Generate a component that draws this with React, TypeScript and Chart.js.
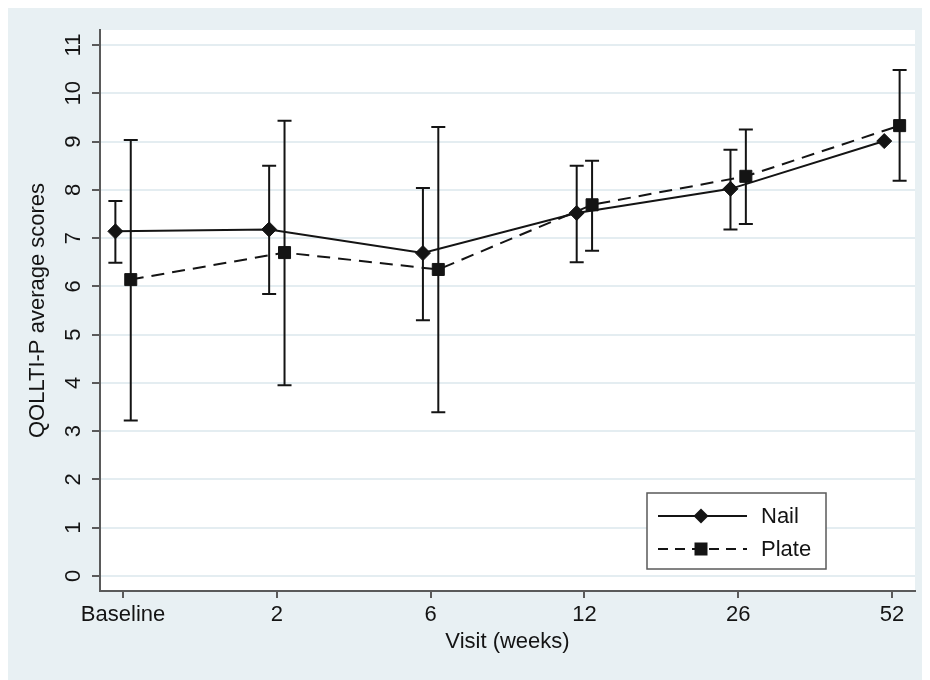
import React, { useEffect, useRef } from 'react';
import { Chart, registerables } from 'chart.js';

Chart.register(...registerables);

// ---- data ----
const visitLabels = ['Baseline', '2', '6', '12', '26', '52'];
const yTickValues = [0, 1, 2, 3, 4, 5, 6, 7, 8, 9, 10, 11];

const nailMean = [7.14, 7.18, 6.69, 7.52, 8.02, 9.01];
const nailLow = [6.49, 5.84, 5.30, 6.50, 7.18, null];
const nailHigh = [7.77, 8.50, 8.04, 8.50, 8.83, null];

const plateMean = [6.14, 6.70, 6.35, 7.69, 8.28, 9.33];
const plateLow = [3.22, 3.95, 3.39, 6.74, 7.29, 8.19];
const plateHigh = [9.03, 9.43, 9.30, 8.60, 9.25, 10.48];

const seriesNames = ['Nail', 'Plate'];
const yTitle = 'QOLLTI-P average scores';
const xTitle = 'Visit (weeks)';

// ---- styling ----
const FONT = "'Liberation Sans', Arial, Helvetica, sans-serif";
const INK = '#141414';
const AXIS = '#5a5a5a';
const BG = '#e8f0f3';
const GRID = '#e4edf1';
const DODGE = 0.05;

const W = 922;
const H = 672;

const bgPlugin = {
  id: 'bgPlugin',
  beforeDraw(chart: any) {
    const { ctx, chartArea: a, width, height } = chart;
    ctx.save();
    ctx.fillStyle = BG;
    ctx.fillRect(0, 0, width, height);
    ctx.fillStyle = '#ffffff';
    ctx.fillRect(a.left, a.top, a.right - a.left, a.bottom - a.top);
    ctx.restore();
  },
};

const errorBarPlugin = {
  id: 'errorBarPlugin',
  beforeDatasetsDraw(chart: any) {
    const { ctx } = chart;
    const xs = chart.scales.x;
    const ys = chart.scales.y;
    const groups = [
      { lo: nailLow, hi: nailHigh, off: -DODGE },
      { lo: plateLow, hi: plateHigh, off: DODGE },
    ];
    ctx.save();
    ctx.strokeStyle = INK;
    ctx.lineWidth = 2;
    groups.forEach((g) => {
      g.lo.forEach((lo: number | null, i: number) => {
        const hi = g.hi[i];
        if (lo == null || hi == null) return;
        const x = xs.getPixelForValue(i + g.off);
        const y1 = ys.getPixelForValue(lo);
        const y2 = ys.getPixelForValue(hi);
        ctx.beginPath();
        ctx.moveTo(x, y1);
        ctx.lineTo(x, y2);
        ctx.moveTo(x - 7, y1);
        ctx.lineTo(x + 7, y1);
        ctx.moveTo(x - 7, y2);
        ctx.lineTo(x + 7, y2);
        ctx.stroke();
      });
    });
    ctx.restore();
  },
};

const yLabelPlugin = {
  id: 'yLabelPlugin',
  afterDraw(chart: any) {
    const { ctx } = chart;
    const ys = chart.scales.y;
    ctx.save();
    ctx.fillStyle = INK;
    ctx.font = `22px ${FONT}`;
    ctx.textAlign = 'center';
    ctx.textBaseline = 'middle';
    yTickValues.forEach((v) => {
      const y = ys.getPixelForValue(v);
      ctx.save();
      ctx.translate(66, y);
      ctx.rotate(-Math.PI / 2);
      ctx.fillText(String(v), 0, 0);
      ctx.restore();
    });
    ctx.restore();
  },
};

const legendPlugin = {
  id: 'legendPlugin',
  afterDraw(chart: any) {
    const { ctx } = chart;
    const bx = 639, by = 485, bw = 179, bh = 76;
    ctx.save();
    ctx.fillStyle = '#ffffff';
    ctx.fillRect(bx, by, bw, bh);
    ctx.strokeStyle = AXIS;
    ctx.lineWidth = 1.5;
    ctx.strokeRect(bx, by, bw, bh);

    const rows = [by + 23, by + 56];
    ctx.strokeStyle = INK;
    ctx.fillStyle = INK;
    ctx.lineWidth = 2;
    // Nail: solid line + diamond
    ctx.setLineDash([]);
    ctx.beginPath();
    ctx.moveTo(650, rows[0]);
    ctx.lineTo(739, rows[0]);
    ctx.stroke();
    ctx.beginPath();
    ctx.moveTo(693, rows[0] - 7.5);
    ctx.lineTo(700.5, rows[0]);
    ctx.lineTo(693, rows[0] + 7.5);
    ctx.lineTo(685.5, rows[0]);
    ctx.closePath();
    ctx.fill();
    // Plate: dashed line + square
    ctx.setLineDash([10, 7]);
    ctx.beginPath();
    ctx.moveTo(650, rows[1]);
    ctx.lineTo(739, rows[1]);
    ctx.stroke();
    ctx.setLineDash([]);
    ctx.fillRect(693 - 6.5, rows[1] - 6.5, 13, 13);

    ctx.font = `22px ${FONT}`;
    ctx.textAlign = 'left';
    ctx.textBaseline = 'middle';
    ctx.fillText(seriesNames[0], 753, rows[0] + 1);
    ctx.fillText(seriesNames[1], 753, rows[1] + 1);
    ctx.restore();
  },
};

export default function App() {
  const ref = useRef<HTMLCanvasElement>(null);

  useEffect(() => {
    document.documentElement.style.overflow = 'hidden';
    document.body.style.overflow = 'hidden';
    const canvas = ref.current;
    if (!canvas) return;

    const chart = new Chart(canvas, {
      type: 'line',
      data: {
        datasets: [
          {
            label: seriesNames[0],
            data: nailMean.map((y, i) => ({ x: i - DODGE, y })),
            borderColor: INK,
            backgroundColor: INK,
            borderWidth: 2,
            pointStyle: 'rectRot',
            pointRadius: 7.5,
            pointBorderWidth: 1,
            pointBackgroundColor: INK,
            pointBorderColor: INK,
            tension: 0,
            fill: false,
          },
          {
            label: seriesNames[1],
            data: plateMean.map((y, i) => ({ x: i + DODGE, y })),
            borderColor: INK,
            backgroundColor: INK,
            borderWidth: 2,
            borderDash: [13, 8],
            pointStyle: 'rect',
            pointRadius: 8.5,
            pointBorderWidth: 1,
            pointBackgroundColor: INK,
            pointBorderColor: INK,
            tension: 0,
            fill: false,
          },
        ],
      },
      options: {
        responsive: false,
        animation: false,
        events: [],
        layout: { padding: { top: 22, right: 15, left: 0, bottom: 0 } },
        plugins: {
          legend: { display: false },
          tooltip: { enabled: false },
          title: { display: false },
        },
        scales: {
          x: {
            type: 'linear',
            min: -0.15,
            max: 5.15,
            afterFit: (s: any) => { s.height = 89; },
            afterBuildTicks: (s: any) => { s.ticks = visitLabels.map((_, i) => ({ value: i })); },
            grid: {
              drawOnChartArea: false,
              drawTicks: true,
              tickLength: 7,
              tickColor: AXIS,
              lineWidth: 2,
            },
            border: { display: true, color: AXIS, width: 2 },
            ticks: {
              padding: 4,
              color: INK,
              font: { family: FONT, size: 22 },
              maxRotation: 0,
              autoSkip: false,
              callback: (v: any) => visitLabels[Math.round(Number(v))] ?? '',
            },
            title: {
              display: true,
              text: xTitle,
              color: INK,
              font: { family: FONT, size: 22 },
              padding: { top: 0, bottom: 25 },
            },
          },
          y: {
            type: 'linear',
            min: -0.311,
            max: 11.311,
            afterFit: (s: any) => { s.width = 92; },
            afterBuildTicks: (s: any) => { s.ticks = yTickValues.map((v) => ({ value: v })); },
            grid: {
              color: GRID,
              lineWidth: 2,
              drawTicks: true,
              tickLength: 8,
              tickColor: AXIS,
            },
            border: { display: true, color: AXIS, width: 2 },
            ticks: { display: false },
            title: {
              display: true,
              text: yTitle,
              color: INK,
              font: { family: FONT, size: 22 },
              padding: { top: 17, bottom: 0 },
            },
          },
        },
      },
      plugins: [bgPlugin, errorBarPlugin, yLabelPlugin, legendPlugin],
    } as any);

    return () => chart.destroy();
  }, []);

  return (
    <div style={{ width: W, height: H }}>
      <canvas ref={ref} width={W} height={H} style={{ display: 'block', width: W, height: H }} />
    </div>
  );
}
